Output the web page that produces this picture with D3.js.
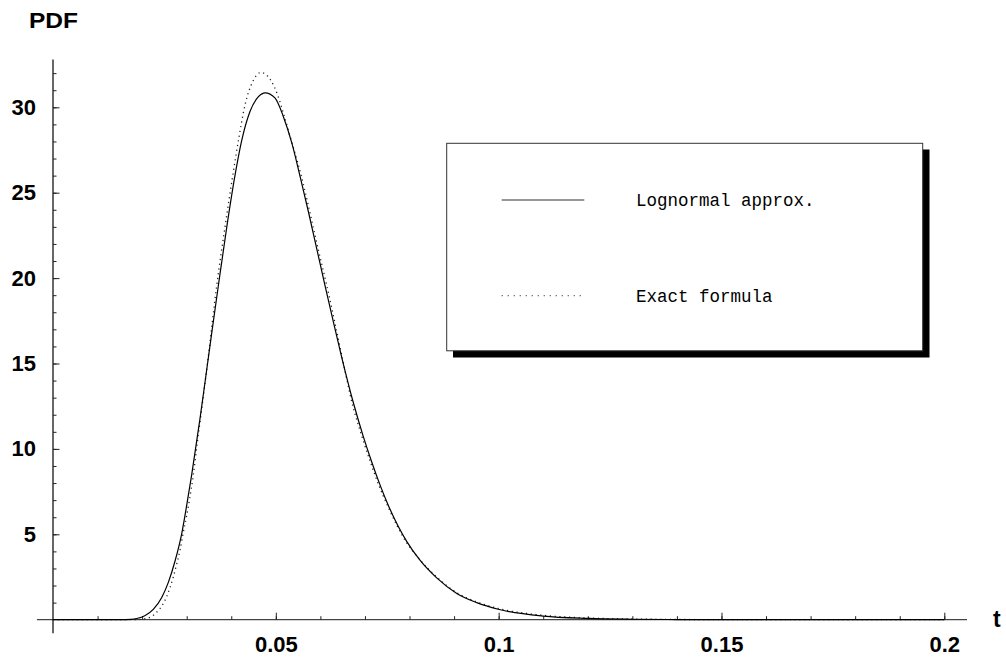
<!DOCTYPE html>
<html>
<head>
<meta charset="utf-8">
<script src="https://cdn.jsdelivr.net/npm/d3@7"></script>
<style>
  html, body { margin: 0; padding: 0; background: #fff; }
  svg { display: block; }
</style>
</head>
<body>
<svg id="chart" width="1006" height="662"></svg>
<script>
// ---- Data ----
const lognormalT = [0, 0.015, 0.0175, 0.0188, 0.0206, 0.0225, 0.0244, 0.0259, 0.0274, 0.0289, 0.0301,
  0.0311, 0.033, 0.0345, 0.0356, 0.0371, 0.039, 0.0408, 0.0423, 0.0442, 0.0461, 0.0476, 0.0498, 0.0517,
  0.0536, 0.0554, 0.0573, 0.0592, 0.061, 0.0629, 0.0648, 0.0674, 0.0696, 0.0715, 0.0734, 0.0752, 0.0794,
  0.0823, 0.0861, 0.0906, 0.0951, 0.0999, 0.110, 0.120, 0.130, 0.140, 0.150, 0.200];
const lognormalV = [0, 0, 0.02, 0.07, 0.23, 0.60, 1.30, 2.20, 3.45, 5.06, 6.85,
  8.45, 11.8, 14.65, 16.75, 19.55, 23.0, 25.95, 28.0, 29.75, 30.62, 30.85, 30.55, 29.45,
  27.9, 26.0, 23.9, 21.7, 19.6, 17.45, 15.35, 12.7, 10.75, 9.25, 7.88, 6.72, 4.57,
  3.5, 2.45, 1.54, 1.0, 0.61, 0.21, 0.075, 0.025, 0.008, 0, 0];

const exactT = [0, 0.018, 0.020, 0.0221, 0.0233, 0.0244, 0.0255, 0.0262, 0.027, 0.0277, 0.0285, 0.0292,
  0.030, 0.0306, 0.0315, 0.0324, 0.0333, 0.0348, 0.0367, 0.0386, 0.0403, 0.0417, 0.0431, 0.0449, 0.0467,
  0.0487, 0.0505, 0.0517, 0.0532, 0.0557, 0.0576, 0.0595, 0.0614, 0.0632, 0.0649, 0.0671, 0.0693, 0.0712,
  0.0731, 0.0750, 0.0792, 0.0823, 0.0861, 0.0906, 0.0951, 0.0999, 0.110, 0.120, 0.130, 0.140, 0.155, 0.200];
const exactV = [0, 0, 0.03, 0.18, 0.45, 0.80, 1.35, 1.84, 2.50, 3.20, 4.08, 5.06,
  6.10, 7.0, 8.5, 10.4, 12.2, 15.3, 19.5, 23.0, 25.95, 28.2, 30.15, 31.55, 32.04,
  31.65, 30.65, 29.65, 28.3, 26.0, 23.9, 21.7, 19.6, 17.45, 15.35, 12.7, 10.75, 9.25,
  7.88, 6.72, 4.57, 3.52, 2.5, 1.58, 1.04, 0.66, 0.26, 0.10, 0.04, 0.015, 0, 0];

const xMajorTicks = [0.05, 0.1, 0.15, 0.2];
const xTickLabels = ["0.05", "0.1", "0.15", "0.2"];
const xMinorTicks = d3.range(1, 21).map(i => i / 100);
const yMajorTicks = [5, 10, 15, 20, 25, 30];
const yTickLabels = ["5", "10", "15", "20", "25", "30"];
const yMinorTicks = d3.range(1, 33);

const seriesNames = ["Lognormal approx.", "Exact formula"];
const xAxisTitle = "t";
const yAxisTitle = "PDF";

// ---- Layout ----
const svg = d3.select("#chart");
const x = d3.scaleLinear().domain([0, 0.2]).range([53, 944.3]);
const y = d3.scaleLinear().domain([0, 30]).range([619.7, 107.3]);
const labelFont = "'Liberation Sans', Arial, Helvetica, sans-serif";
const monoFont = "'Liberation Mono', 'Courier New', Courier, monospace";

// Axis lines
svg.append("line")
  .attr("x1", x(-0.0036)).attr("x2", x(0.2051))
  .attr("y1", y(0)).attr("y2", y(0))
  .attr("stroke", "#444").attr("stroke-width", 1.2);
svg.append("line")
  .attr("x1", x(0)).attr("x2", x(0))
  .attr("y1", y(-0.8)).attr("y2", y(32.8))
  .attr("stroke", "#000").attr("stroke-width", 1.2);

// X axis ticks
const xMinorAxis = d3.axisBottom(x).tickValues(xMinorTicks).tickSize(-3.5).tickFormat("");
const gxm = svg.append("g").attr("transform", `translate(0,${y(0)})`).call(xMinorAxis);
const xMajorAxis = d3.axisBottom(x).tickValues(xMajorTicks).tickSize(-7).tickPadding(16.5)
  .tickFormat((d, i) => xTickLabels[i]);
const gxM = svg.append("g").attr("transform", `translate(0,${y(0)})`).call(xMajorAxis);

// Y axis ticks
const yMinorAxis = d3.axisLeft(y).tickValues(yMinorTicks).tickSize(-3.5).tickFormat("");
const gym = svg.append("g").attr("transform", `translate(${x(0)},0)`).call(yMinorAxis);
const yMajorAxis = d3.axisLeft(y).tickValues(yMajorTicks).tickSize(-6.5).tickPadding(17)
  .tickFormat((d, i) => yTickLabels[i]);
const gyM = svg.append("g").attr("transform", `translate(${x(0)},0)`).call(yMajorAxis);

[gxm, gxM, gym, gyM].forEach(g => {
  g.select(".domain").remove();
  g.selectAll(".tick line").attr("stroke", "#222").attr("stroke-width", 1);
  g.selectAll(".tick text")
    .attr("fill", "#000")
    .style("font-family", labelFont)
    .style("font-weight", "bold")
    .style("font-size", "22px");
});

// Axis titles
svg.append("text").attr("x", 29).attr("y", 28)
  .attr("textLength", 49).attr("lengthAdjust", "spacingAndGlyphs")
  .style("font-family", labelFont).style("font-weight", "bold").style("font-size", "22px")
  .text(yAxisTitle);
svg.append("text").attr("x", 993).attr("y", 627)
  .style("font-family", labelFont).style("font-weight", "bold").style("font-size", "23px")
  .text(xAxisTitle);

// Curves
const line = d3.line().x(d => x(d[0])).y(d => y(d[1])).curve(d3.curveMonotoneX);
const lognormalData = lognormalT.map((t, i) => [t, lognormalV[i]]);
const exactData = exactT.map((t, i) => [t, exactV[i]]);

svg.append("path").datum(exactData)
  .attr("d", line).attr("fill", "none")
  .attr("stroke", "#222").attr("stroke-width", 1.3)
  .attr("stroke-dasharray", "1.2,3.6");
svg.append("path").datum(lognormalData)
  .attr("d", line).attr("fill", "none")
  .attr("stroke", "#000").attr("stroke-width", 1.2);

// Legend
const lg = svg.append("g");
lg.append("rect").attr("x", 453).attr("y", 149.5).attr("width", 476.5).attr("height", 208).attr("fill", "#000");
lg.append("rect").attr("x", 446.7).attr("y", 143.3).attr("width", 476).attr("height", 207.5)
  .attr("fill", "#fff").attr("stroke", "#333").attr("stroke-width", 1);
lg.append("line").attr("x1", 501.7).attr("x2", 584.3).attr("y1", 200).attr("y2", 200)
  .attr("stroke", "#333").attr("stroke-width", 1.2);
lg.append("line").attr("x1", 501.7).attr("x2", 585).attr("y1", 295.7).attr("y2", 295.7)
  .attr("stroke", "#444").attr("stroke-width", 1.2).attr("stroke-dasharray", "1,5");
lg.append("text").attr("x", 636).attr("y", 206)
  .style("font-family", monoFont).style("font-size", "17.5px").text(seriesNames[0]);
lg.append("text").attr("x", 636).attr("y", 301.7)
  .style("font-family", monoFont).style("font-size", "17.5px").text(seriesNames[1]);
</script>
</body>
</html>
